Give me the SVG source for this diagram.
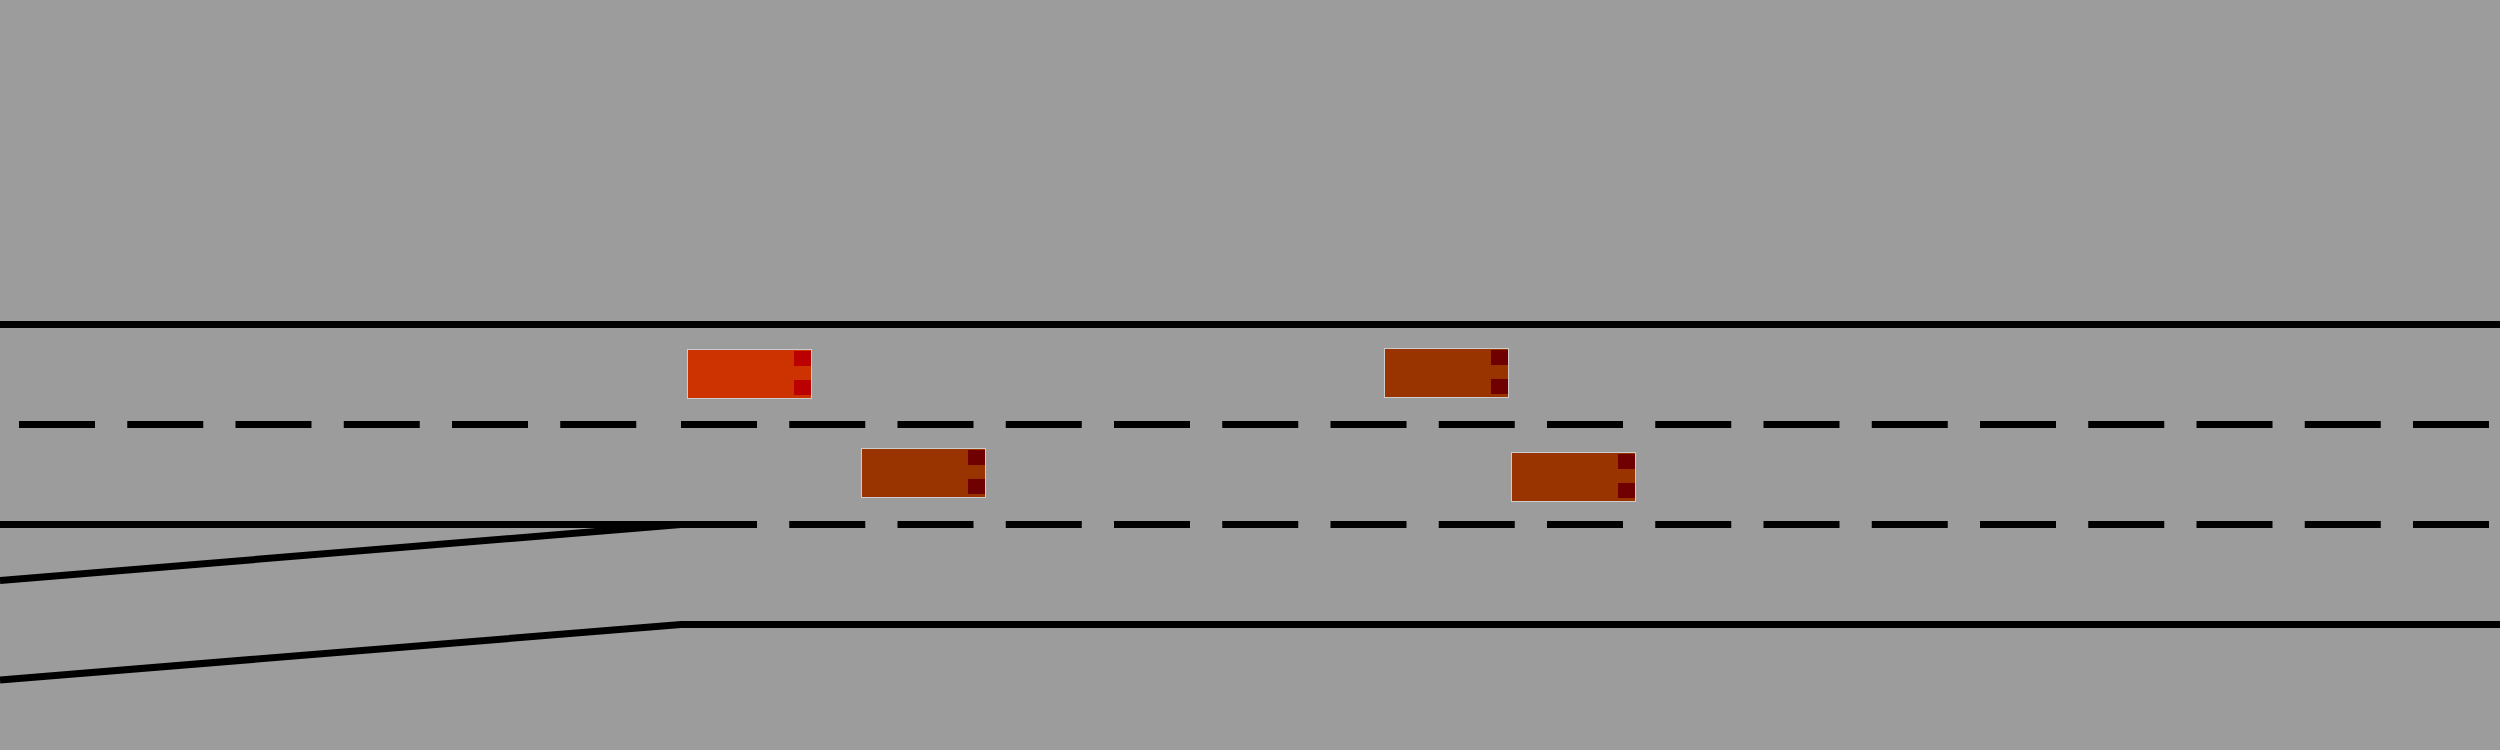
<svg xmlns="http://www.w3.org/2000/svg" width="2500" height="750" viewBox="0 0 2500 750">
  <style>
    .edge { stroke: #000000; stroke-width: 7; fill: none; }
    .dash { stroke: #000000; stroke-width: 7; fill: none; stroke-dasharray: 76 32.25; }
    .body { stroke: #cccccc; stroke-width: 1; }
    .ego { fill: #cc3300; }
    .other { fill: #993300; }
    .egoLight { fill: #bb0000; }
    .otherLight { fill: #700000; }
  </style>
  <defs>
    <g id="carEgo">
      <rect class="body ego" x="0.5" y="0.5" width="124" height="49"/>
      <rect class="egoLight" x="107" y="2" width="17" height="15"/>
      <rect class="egoLight" x="107" y="31" width="17" height="15"/>
    </g>
    <g id="carOther">
      <rect class="body other" x="0.5" y="0.5" width="124" height="49"/>
      <rect class="otherLight" x="107" y="2" width="17" height="15"/>
      <rect class="otherLight" x="107" y="31" width="17" height="15"/>
    </g>
  </defs>
  <rect x="0" y="0" width="2500" height="750" fill="#9c9c9c"/>
  <g id="road">
    <line class="edge" x1="0" y1="324.5" x2="2500" y2="324.5"/>
    <line class="dash" x1="19" y1="424.5" x2="660" y2="424.5"/>
    <line class="dash" x1="681" y1="424.5" x2="2500" y2="424.5"/>
    <line class="edge" x1="0" y1="524.5" x2="681" y2="524.5"/>
    <line class="dash" x1="681" y1="524.5" x2="2500" y2="524.5"/>
    <line class="edge" x1="0" y1="580.5" x2="681" y2="524.5"/>
    <polyline class="edge" points="0,680 681,624.5 2500,624.5"/>
  </g>
  <g id="car-ego"><use href="#carEgo" x="687" y="349"/></g>
  <g id="car-2"><use href="#carOther" x="861" y="448"/></g>
  <g id="car-3"><use href="#carOther" x="1384" y="348"/></g>
  <g id="car-4"><use href="#carOther" x="1511" y="452"/></g>
</svg>
